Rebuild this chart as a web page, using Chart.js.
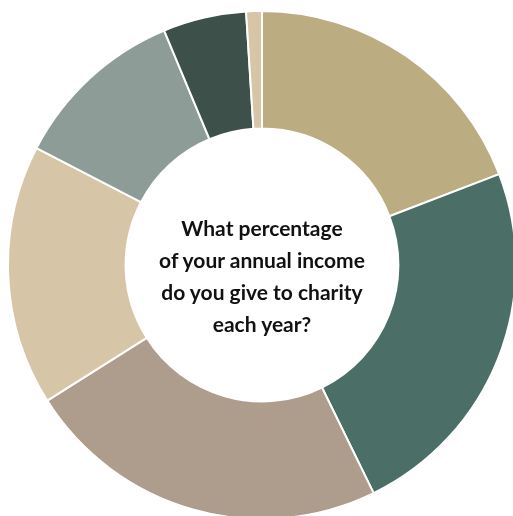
<!DOCTYPE html>
<html>
<head>
<meta charset="utf-8">
<script src="https://cdn.jsdelivr.net/npm/chart.js@4/dist/chart.umd.min.js"></script>
<style>
  html, body { margin: 0; padding: 0; background: #fff; overflow: hidden; width: 513px; height: 516px; }
  #wrap { position: absolute; left: 7px; top: 10px; width: 510px; height: 510px; }
  #centerText {
    position: absolute; left: 112px; top: 212px; width: 300px;
    text-align: center; font-family: Lato, sans-serif; font-weight: 700;
    font-size: 21px; line-height: 32px; color: #111;
  }
</style>
</head>
<body>
<div id="wrap"><canvas id="myChart" width="510" height="510"></canvas></div>
<div id="centerText">What percentage<br>of your annual income<br>do you give to charity<br>each year?</div>
<script>
// share of respondents per giving band, clockwise from 12 o'clock
const categories = ['Band 1', 'Band 2', 'Band 3', 'Band 4', 'Band 5', 'Band 6', 'Band 7'];
const shares = [19.2, 23.6, 23.3, 16.6, 11.1, 5.3, 1.0];
const sliceColors = ['#bcac82', '#4b6e66', '#ae9c8c', '#d6c6a7', '#8e9c97', '#3d5049', '#d6c6a7'];

const data = {
    labels: categories,
    datasets: [{
        data: shares,
        backgroundColor: sliceColors,
        borderColor: '#ffffff',
        borderWidth: 2
    }]
};

const config = {
    type: 'doughnut',
    data: data,
    options: {
        responsive: false,
        animation: false,
        cutout: '53.7%',
        layout: { padding: 0 },
        plugins: {
            legend: { display: false },
            tooltip: { enabled: false }
        }
    }
};

const myChart = new Chart(document.getElementById('myChart'), config);
</script>
</body>
</html>
